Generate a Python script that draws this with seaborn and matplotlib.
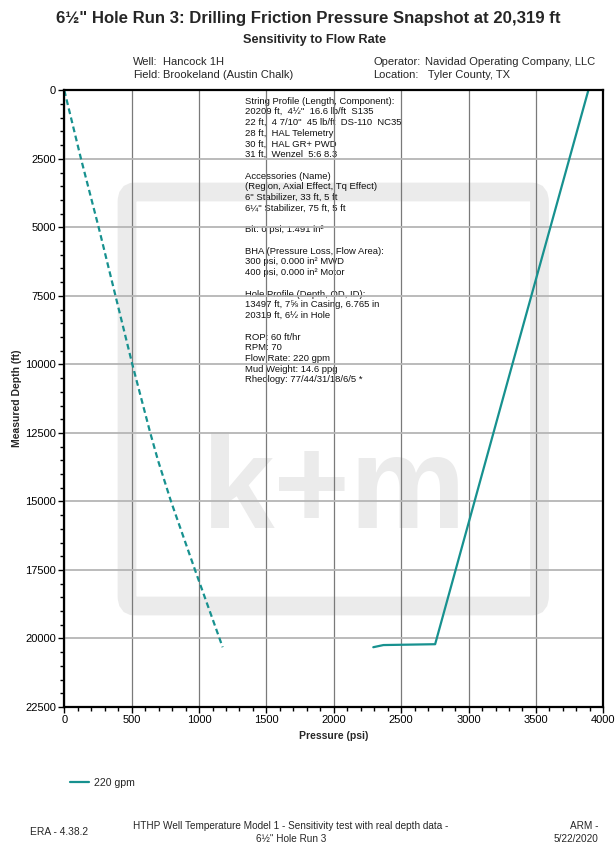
import matplotlib
matplotlib.use("Agg")
import matplotlib.pyplot as plt
from matplotlib.patches import FancyBboxPatch
from matplotlib.ticker import MultipleLocator
import seaborn as sns
import pandas as pd

# Annulus friction pressure along the string (dashed)
annulus_depth = [0, 2500, 5000, 7500, 10000, 12500, 13497, 15000, 17500, 20000, 20319]
annulus_psi = [0, 124, 255, 380, 505, 638, 695, 792, 970, 1152, 1175]

# Drill string pressure at 220 gpm (solid)
string_depth = [0, 10000, 20209, 20240, 20319]
string_psi = [3889, 3325, 2752, 2368, 2293]

series_label = "220 gpm"
x_ticks = list(range(0, 4001, 500))
y_ticks = list(range(0, 22501, 2500))

title = "6\u00bd\" Hole Run 3: Drilling Friction Pressure Snapshot at 20,319 ft"
subtitle = "Sensitivity to Flow Rate"

header_left = [("Well:", "Hancock 1H"), ("Field:", "Brookeland (Austin Chalk)")]
header_right = [("Operator:", "Navidad Operating Company, LLC"), ("Location:", " Tyler County, TX")]

info_lines = [
    "String Profile (Length, Component):",
    "20209 ft,  4\u00bd\"  16.6 lb/ft  S135",
    "22 ft,  4 7/10\"  45 lb/ft  DS-110  NC35",
    "28 ft,  HAL Telemetry",
    "30 ft,  HAL GR+ PWD",
    "31 ft,  Wenzel  5:6 8.3",
    "",
    "Accessories (Name)",
    "(Region, Axial Effect, Tq Effect)",
    "6\" Stabilizer, 33 ft, 5 ft",
    "6\u00bc\" Stabilizer, 75 ft, 5 ft",
    "",
    "Bit: 0 psi, 1.491 in\u00b2",
    "",
    "BHA (Pressure Loss, Flow Area):",
    "300 psi, 0.000 in\u00b2 MWD",
    "400 psi, 0.000 in\u00b2 Motor",
    "",
    "Hole Profile (Depth, OD, ID):",
    "13497 ft, 7\u215d in Casing, 6.765 in",
    "20319 ft, 6\u00bd in Hole",
    "",
    "ROP: 60 ft/hr",
    "RPM: 70",
    "Flow Rate: 220 gpm",
    "Mud Weight: 14.6 ppg",
    "Rheology: 77/44/31/18/6/5 *",
]

footer_left = "ERA - 4.38.2"
footer_mid = ["HTHP Well Temperature Model 1 - Sensitivity test with real depth data -",
              "6\u00bd\" Hole Run 3"]
footer_right = ["ARM -", "5/22/2020"]

sns.set_theme(style="white")
plt.rcParams["font.family"] = ["Liberation Sans", "DejaVu Sans"]

TEAL = "#17918f"
W, H = 616, 846
fig = plt.figure(figsize=(W / 100, H / 100), dpi=100)
fig.patch.set_facecolor("white")

# axes box in pixels: left 64, top 90, right 603, bottom 707
L, T, R, B = 64.3, 90.3, 603.3, 707.0
ax = fig.add_axes([L / W, 1 - B / H, (R - L) / W, (B - T) / H])
ax.set_facecolor("white")


def fx(px):
    return px / W


def fy(py):
    return 1 - py / H


annulus = pd.DataFrame({"Depth": annulus_depth, "Pressure": annulus_psi})
string = pd.DataFrame({"Depth": string_depth, "Pressure": string_psi})

sns.lineplot(data=annulus, x="Pressure", y="Depth", sort=False, estimator=None,
             ax=ax, color=TEAL, lw=1.6, dashes=False, zorder=4)
ax.lines[-1].set_dashes((2.6, 1.6))
sns.lineplot(data=string, x="Pressure", y="Depth", sort=False, estimator=None,
             ax=ax, color=TEAL, lw=1.6, label=series_label, zorder=4)

ax.set_xlim(0, 4000)
ax.set_ylim(22500, 0)
ax.set_xticks(x_ticks)
ax.set_yticks(y_ticks)
ax.xaxis.set_minor_locator(MultipleLocator(100))
ax.yaxis.set_minor_locator(MultipleLocator(500))
ax.tick_params(axis="both", which="major", length=4, width=1, color="black",
               labelsize=8, labelcolor="black", pad=2, direction="out")
ax.tick_params(axis="both", which="minor", length=3, width=1, color="black", direction="out")
ax.tick_params(left=True, bottom=True, which="both")

ax.grid(False)
ax.xaxis.grid(True, which="major", color="#7a7a7a", lw=0.9, zorder=2)
ax.yaxis.grid(True, which="major", color="#b5b5b5", lw=1.3, zorder=2)
ax.set_axisbelow(False)

for s in ax.spines.values():
    s.set_visible(True)
    s.set_color("black")
    s.set_linewidth(1.6)
    s.set_zorder(5)

ax.set_xlabel("Pressure (psi)", fontsize=7.5, fontweight="bold", labelpad=4)
ax.set_ylabel("Measured Depth (ft)", fontsize=7.5, fontweight="bold", labelpad=2)

# watermark frame and lettering
frame = FancyBboxPatch((fx(127), fy(606)), fx(539.5) - fx(127), fy(192) - fy(606),
                       boxstyle="round,pad=0,rounding_size=0.012",
                       transform=fig.transFigure, facecolor="none",
                       edgecolor="#ebebeb", lw=13.5, zorder=0.3)
ax.add_patch(frame)
ax.text(fx(334), fy(528), "k+m", transform=fig.transFigure, ha="center", va="baseline",
        fontsize=94, fontweight="bold", color="#ebebeb", zorder=0.4)

# well parameter block
for i, line in enumerate(info_lines):
    if line:
        ax.text(fx(245), fy(101 + i * 10.73), line, transform=fig.transFigure,
                ha="left", va="center", fontsize=6.8, color="#111111", zorder=1)

legend = ax.legend(loc="center left", bbox_to_anchor=(fx(70), fy(783)),
                   bbox_transform=fig.transFigure, frameon=False, fontsize=7.6,
                   handlelength=1.8, handletextpad=0.5, borderpad=0, borderaxespad=0)

# titles and header
fig.text(0.5, fy(18), title, ha="center", va="center", fontsize=12.1, fontweight="bold")
fig.text(fx(315), fy(40), subtitle, ha="center", va="center", fontsize=9.2, fontweight="bold")
for i, (k, v) in enumerate(header_left):
    fig.text(fx(133), fy(62 + i * 13), k, ha="left", va="center", fontsize=8)
    fig.text(fx(163), fy(62 + i * 13), v, ha="left", va="center", fontsize=8)
for i, (k, v) in enumerate(header_right):
    fig.text(fx(373), fy(62 + i * 13), k, ha="left", va="center", fontsize=8)
    fig.text(fx(425), fy(62 + i * 13), v, ha="left", va="center", fontsize=8)

# footer
fig.text(fx(30), fy(832), footer_left, ha="left", va="center", fontsize=7.4)
for i, line in enumerate(footer_mid):
    fig.text(fx(291), fy(826 + i * 13), line, ha="center", va="center", fontsize=7.2)
for i, line in enumerate(footer_right):
    fig.text(fx(598), fy(826 + i * 13), line, ha="right", va="center", fontsize=7.2)

fig.savefig("out.png", dpi=100, facecolor="white")
